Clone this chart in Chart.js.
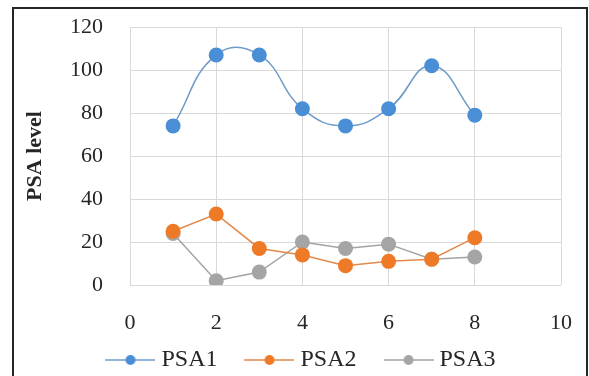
<!DOCTYPE html>
<html>
<head>
<meta charset="utf-8">
<script src="https://cdn.jsdelivr.net/npm/chart.js@4/dist/chart.umd.min.js"></script>
<style>
  html, body { margin: 0; padding: 0; background: #fff; }
  #wrap { position: relative; width: 589px; height: 376px; overflow: hidden; }
  #c { position: absolute; left: 0; top: 0; display: block; }
  #frame {
    position: absolute; left: 12px; top: 7px; width: 576px; height: 420px;
    border: 2px solid #262626; box-sizing: border-box; pointer-events: none;
  }
</style>
</head>
<body>
<div id="wrap">
  <canvas id="c" width="589" height="404"></canvas>
  <div id="frame"></div>
</div>
<script>
// Sample index on the x axis and the three PSA series
const samples = [1, 2, 3, 4, 5, 6, 7, 8];
const psa1 = [74, 107, 107, 82, 74, 82, 102, 79];
const psa2 = [25, 33, 17, 14, 9, 11, 12, 22];
const psa3 = [24, 2, 6, 20, 17, 19, 12, 13];

// Axis tick values
const xTicks = [0, 2, 4, 6, 8, 10];
const yTicks = [0, 20, 40, 60, 80, 100, 120];

const seriesNames = ['PSA1', 'PSA2', 'PSA3'];
const dotColors = ['#4a8fd6', '#ee7a27', '#a5a5a5'];
const lineColors = ['#6f9bc8', '#e5894a', '#a3a3a3'];

const serif = "'Liberation Serif', 'Times New Roman', serif";
const textColor = '#262626';

function toPoints(values) {
  return values.map((v, i) => ({ x: samples[i], y: v }));
}

// Legend swatch: a short line with a dot in the middle
function makeSwatch(lineColor, dotColor) {
  const cv = document.createElement('canvas');
  cv.width = 50; cv.height = 14;
  const g = cv.getContext('2d');
  g.strokeStyle = lineColor;
  g.lineWidth = 1.5;
  g.beginPath(); g.moveTo(0, 7); g.lineTo(50, 7); g.stroke();
  g.fillStyle = dotColor;
  g.beginPath(); g.arc(25, 7, 5, 0, Math.PI * 2); g.fill();
  return cv;
}
const swatches = seriesNames.map((n, i) => makeSwatch(lineColors[i], dotColors[i]));

// Move the legend row after layout (wide item spacing without a tall legend box)
const legendNudge = {
  id: 'legendNudge',
  afterLayout(chart) {
    const { dx, dy } = chart.options.plugins.legendNudge;
    const lg = chart.legend;
    lg.left += dx; lg.right += dx;
    lg.top += dy; lg.bottom += dy;
  }
};

const allSeries = [psa1, psa2, psa3];
const datasets = allSeries.map((vals, i) => ({
  label: seriesNames[i],
  data: toPoints(vals),
  borderColor: lineColors[i],
  borderWidth: 1.5,
  backgroundColor: dotColors[i],
  pointBackgroundColor: dotColors[i],
  pointBorderColor: dotColors[i],
  pointBorderWidth: 0,
  pointRadius: 7.5,
  tension: i === 0 ? 0.45 : 0,
  fill: false
}));

new Chart(document.getElementById('c'), {
  type: 'line',
  data: { datasets },
  plugins: [legendNudge],
  options: {
    responsive: false,
    animation: false,
    events: [],
    layout: { padding: { left: 18, right: 28, top: 27, bottom: 0 } },
    plugins: {
      legendNudge: { dx: 14, dy: -22 },
      tooltip: { enabled: false },
      legend: {
        position: 'bottom',
        labels: {
          usePointStyle: true,
          pointStyleWidth: 38,
          padding: 33,
          color: textColor,
          font: { family: serif, size: 24 },
          generateLabels: (chart) => chart.data.datasets.map((ds, i) => ({
            text: ds.label,
            pointStyle: swatches[i],
            fillStyle: dotColors[i],
            strokeStyle: lineColors[i],
            lineWidth: 0,
            fontColor: textColor,
            hidden: false,
            datasetIndex: i
          }))
        }
      }
    },
    scales: {
      x: {
        type: 'linear',
        min: 0, max: 10,
        afterBuildTicks: (s) => { s.ticks = xTicks.map(v => ({ value: v })); },
        afterFit: (s) => { s.height = 52; s.paddingLeft = 0; s.paddingRight = 0; },
        grid: { color: '#d9d9d9', lineWidth: 1, drawTicks: false },
        border: { display: false },
        ticks: { color: textColor, font: { family: serif, size: 22 }, padding: 25, maxRotation: 0 }
      },
      y: {
        min: 0, max: 120,
        afterBuildTicks: (s) => { s.ticks = yTicks.map(v => ({ value: v })); },
        afterFit: (s) => { s.width = 112; s.paddingTop = 0; s.paddingBottom = 0; },
        grid: { color: '#d9d9d9', lineWidth: 1, drawTicks: false },
        border: { display: false },
        ticks: { color: textColor, font: { family: serif, size: 22 }, padding: 27 },
        title: {
          display: true,
          text: 'PSA level',
          color: textColor,
          font: { family: serif, size: 22, weight: 'bold' },
          padding: 4
        }
      }
    }
  }
});
</script>
</body>
</html>
